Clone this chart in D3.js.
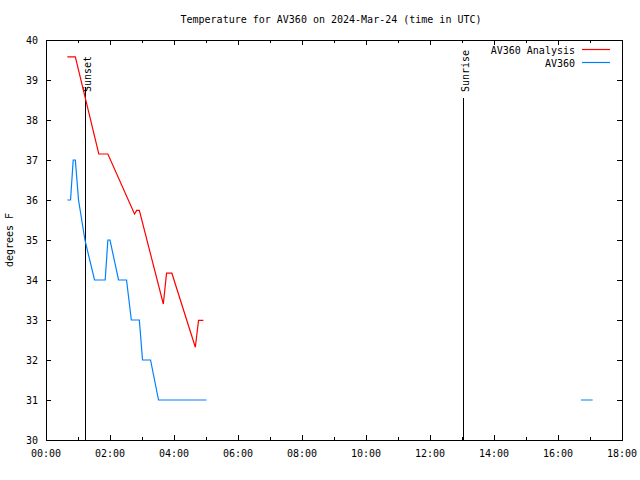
<!DOCTYPE html>
<html>
<head>
<meta charset="utf-8">
<script src="https://cdn.jsdelivr.net/npm/d3@7"></script>
<style>
  body { margin: 0; background: #fff; }
  svg { display: block; }
  text { font-family: "DejaVu Sans Mono", monospace; font-size: 10px; fill: #000; }
</style>
</head>
<body>
<svg id="chart" width="640" height="480"></svg>
<script>
// ---- data (time in minutes since 00:00 UTC, temperature in °F) ----
const analysisTimes = [40, 55, 99, 116, 166, 170, 175, 220, 226, 236, 280, 286, 295];
const analysisTemps = [39.58, 39.58, 37.15, 37.15, 35.65, 35.74, 35.74, 33.4, 34.17, 34.17, 32.32, 32.99, 32.99];

const obsTimes = [40, 46, 51, 55, 61, 73, 91, 111, 116, 120, 136, 151, 160, 175, 181, 196, 211, 301, null, 1003, 1025];
const obsTemps = [36, 36, 37, 37, 36, 35, 34, 34, 35, 35, 34, 34, 33, 33, 32, 32, 31, 31, null, 31, 31];

const sunsetTime = 73;    // ~01:13
const sunsetTop = 38.82;
const sunriseTime = 782;  // ~13:02
const sunriseTop = 38.55;

const xTickLabels = ["00:00", "02:00", "04:00", "06:00", "08:00", "10:00", "12:00", "14:00", "16:00", "18:00"];
const yTickValues = [30, 31, 32, 33, 34, 35, 36, 37, 38, 39, 40];

const titleText = "Temperature for AV360 on 2024-Mar-24 (time in UTC)";
const yLabelText = "degrees F";
const seriesNames = ["AV360 Analysis", "AV360"];
const seriesColors = ["#ff0000", "#0080ff"];

// ---- layout ----
const svg = d3.select("#chart");
const pLeft = 46, pRight = 622, pTop = 40, pBottom = 440;

const x = d3.scaleLinear().domain([0, 18 * 60]).range([pLeft, pRight]);
const y = d3.scaleLinear().domain([30, 40]).range([pBottom, pTop]);

const majorX = d3.range(0, 18 * 60 + 1, 120);
const minorX = d3.range(60, 18 * 60, 120);

// ticks
const g = svg.append("g").attr("shape-rendering", "crispEdges").attr("stroke", "#000");
majorX.forEach(t => {
  g.append("line").attr("x1", x(t)).attr("x2", x(t)).attr("y1", pBottom).attr("y2", pBottom - 5);
  g.append("line").attr("x1", x(t)).attr("x2", x(t)).attr("y1", pTop).attr("y2", pTop + 5);
});
minorX.forEach(t => {
  g.append("line").attr("x1", x(t)).attr("x2", x(t)).attr("y1", pBottom).attr("y2", pBottom - 3);
  g.append("line").attr("x1", x(t)).attr("x2", x(t)).attr("y1", pTop).attr("y2", pTop + 3);
});
yTickValues.forEach(v => {
  g.append("line").attr("x1", pLeft).attr("x2", pLeft + 5).attr("y1", y(v)).attr("y2", y(v));
  g.append("line").attr("x1", pRight).attr("x2", pRight - 5).attr("y1", y(v)).attr("y2", y(v));
});

// tick labels
majorX.forEach((t, i) => {
  svg.append("text").attr("x", x(t)).attr("y", 457).attr("text-anchor", "middle").text(xTickLabels[i]);
});
yTickValues.forEach(v => {
  svg.append("text").attr("x", 38).attr("y", y(v) + 4).attr("text-anchor", "end").text(v);
});

// title & axis label
svg.append("text").attr("x", 331).attr("y", 23).attr("text-anchor", "middle").text(titleText);
svg.append("text").attr("transform", "translate(13,240) rotate(-90)").attr("text-anchor", "middle").text(yLabelText);

// sunset / sunrise markers
[[sunsetTime, sunsetTop, "Sunset"], [sunriseTime, sunriseTop, "Sunrise"]].forEach(([t, v, lbl]) => {
  svg.append("line").attr("shape-rendering", "crispEdges")
    .attr("x1", Math.round(x(t)) + 0.5).attr("x2", Math.round(x(t)) + 0.5)
    .attr("y1", pBottom).attr("y2", y(v)).attr("stroke", "#000").attr("stroke-width", 1.3);
  svg.append("text").attr("transform", `translate(${Math.round(x(t)) + 5.5},92) rotate(-90)`)
    .attr("text-anchor", "start").text(lbl);
});

// series lines
const line = d3.line()
  .defined(d => d[0] !== null && d[1] !== null)
  .x(d => x(d[0])).y(d => y(d[1]));

const analysisData = analysisTimes.map((t, i) => [t, analysisTemps[i]]);
const obsData = obsTimes.map((t, i) => [t, obsTemps[i]]);

svg.append("path").datum(analysisData).attr("d", line)
  .attr("fill", "none").attr("stroke", seriesColors[0]).attr("stroke-width", 1.2);
svg.append("path").datum(obsData).attr("d", line)
  .attr("fill", "none").attr("stroke", seriesColors[1]).attr("stroke-width", 1.2);

// legend
seriesNames.forEach((name, i) => {
  const ly = 50 + i * 13;
  svg.append("text").attr("x", 575).attr("y", ly + 4).attr("text-anchor", "end").text(name);
  svg.append("line").attr("x1", 582).attr("x2", 610).attr("y1", ly - 0.5).attr("y2", ly - 0.5)
    .attr("stroke", seriesColors[i]).attr("stroke-width", 1.2);
});

// frame
svg.append("rect").attr("x", pLeft).attr("y", pTop).attr("width", pRight - pLeft).attr("height", pBottom - pTop)
  .attr("fill", "none").attr("stroke", "#000").attr("shape-rendering", "crispEdges");
</script>
</body>
</html>
